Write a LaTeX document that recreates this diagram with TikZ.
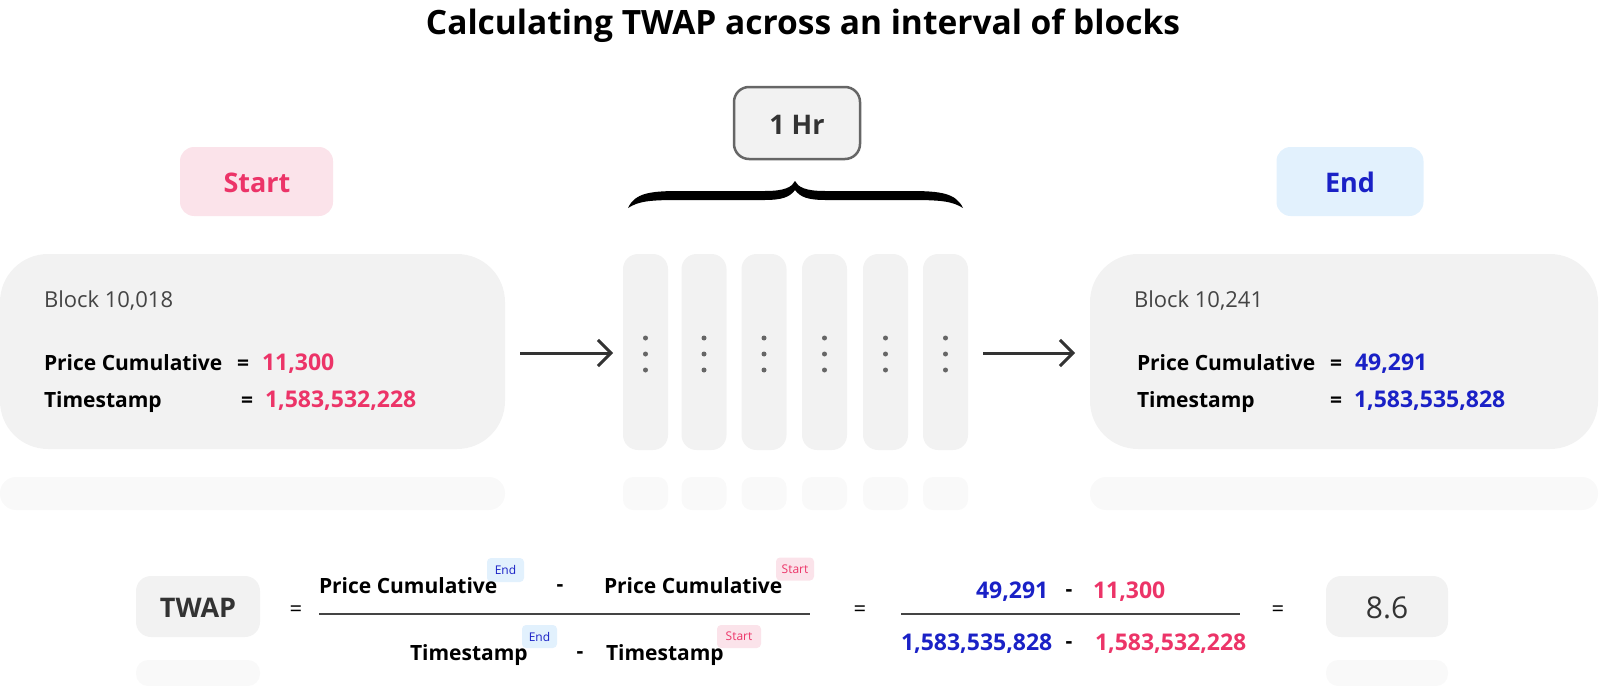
\documentclass[tikz,border=0pt]{standalone}
\usepackage{fontspec}
\setmainfont{Open Sans}
\usetikzlibrary{arrows.meta}
\definecolor{pinkc}{HTML}{EC3468}
\definecolor{bluec}{HTML}{1A21C6}
\definecolor{pinkbg}{HTML}{FBE3EA}
\definecolor{bluebg}{HTML}{E2F1FD}
\definecolor{blockbg}{HTML}{F2F2F2}
\definecolor{ghost}{HTML}{F9F9F9}
\definecolor{darktext}{HTML}{333333}
\definecolor{graytext}{HTML}{444444}
\definecolor{dotc}{HTML}{666666}
\tikzset{
  box/.style={rectangle, inner sep=0pt, outer sep=0pt, draw=none},
  blockbox/.style={box, fill=blockbg, rounded corners=48pt},
  colbox/.style={box, fill=blockbg, rounded corners=15pt, minimum width=45pt, minimum height=196pt},
  ghostcol/.style={box, fill=ghost, rounded corners=10pt, minimum width=45pt, minimum height=33pt},
  ghostbox/.style={box, fill=ghost, rounded corners=16pt},
  tagbox/.style={box, rounded corners=4pt, font=\fontsize{12}{14}\selectfont},
  lbl/.style={inner sep=0pt, outer sep=0pt},
  boldtxt/.style={lbl, font=\bfseries\fontsize{21}{25}\selectfont},
  numtxt/.style={lbl, font=\bfseries\fontsize{23}{27}\selectfont},
  headtxt/.style={lbl, anchor=base, font=\bfseries\fontsize{27}{32}\selectfont},
  arr/.style={-{Straight Barb[length=13pt,width=26pt]}, line width=3pt, draw=darktext},
}
\begin{document}
\begin{tikzpicture}[x=1pt,y=-1pt]
\useasboundingbox (0,0) rectangle (1600,685);

% title
\node[lbl, anchor=base, font=\bfseries\fontsize{33.5}{40}\selectfont] (title) at (803,35) {Calculating TWAP across an interval of blocks};

% 1 Hr label
\node[box, fill=blockbg, draw=dotc, line width=2.5pt, rounded corners=15pt, minimum width=126pt, minimum height=72pt] (hr) at (797,123) {};
\node[headtxt, text=darktext] (hrt) at (797,134) {1 Hr};

% brace
\fill[black] (628,208) .. controls (635,193) and (650,191) .. (680,191) -- (765,191)
  .. controls (785,191) and (792,187) .. (795,181) .. controls (798,187) and (805,191) .. (825,191)
  -- (910,191) .. controls (940,191) and (956,193) .. (963,208)
  .. controls (952,201) and (940,200) .. (910,200) -- (825,200)
  .. controls (808,200) and (800,197) .. (795,190) .. controls (790,197) and (782,200) .. (765,200)
  -- (680,200) .. controls (650,200) and (639,201) .. (628,208) -- cycle;

% start / end labels
\node[box, fill=pinkbg, rounded corners=14pt, minimum width=153pt, minimum height=69pt] (st) at (256.5,181.5) {};
\node[headtxt, text=pinkc] (stt) at (257,192) {Start};
\node[box, fill=bluebg, rounded corners=14pt, minimum width=147pt, minimum height=69pt] (en) at (1350,181.5) {};
\node[headtxt, text=bluec] (ent) at (1350,192) {End};

% start block
\node[blockbox, minimum width=505pt, minimum height=195pt] (sb) at (252.5,351.5) {};
\node[ghostbox, minimum width=505pt, minimum height=33pt] (sbg) at (252.5,493.5) {};
\node[lbl, anchor=base west, font=\fontsize{22}{26}\selectfont, text=graytext] (sbn) at (44,307) {Block 10,018};
\node[boldtxt, anchor=base west] (sbp) at (44,370) {Price Cumulative};
\node[boldtxt, anchor=base west] (sbpe) at (237,370) {=};
\node[numtxt, anchor=base west, text=pinkc] (sbpv) at (262,370) {11,300};
\node[boldtxt, anchor=base west] (sbs) at (44,407) {Timestamp};
\node[boldtxt, anchor=base west] (sbse) at (241,407) {=};
\node[numtxt, anchor=base west, text=pinkc] (sbsv) at (265,407) {1,583,532,228};

% end block
\node[blockbox, minimum width=508pt, minimum height=195pt] (eb) at (1344,351.5) {};
\node[ghostbox, minimum width=508pt, minimum height=33pt] (ebg) at (1344,493.5) {};
\node[lbl, anchor=base west, font=\fontsize{22}{26}\selectfont, text=graytext] (ebn) at (1134,307) {Block 10,241};
\node[boldtxt, anchor=base west] (ebp) at (1137,370) {Price Cumulative};
\node[boldtxt, anchor=base west] (ebpe) at (1330,370) {=};
\node[numtxt, anchor=base west, text=bluec] (ebpv) at (1355,370) {49,291};
\node[boldtxt, anchor=base west] (ebs) at (1137,407) {Timestamp};
\node[boldtxt, anchor=base west] (ebse) at (1330,407) {=};
\node[numtxt, anchor=base west, text=bluec] (ebsv) at (1354,407) {1,583,535,828};

% intermediate blocks
\foreach \i/\x in {1/645.5, 2/704, 3/764, 4/824.5, 5/885.5, 6/945.5} {
  \node[colbox] (c\i) at (\x,352) {};
  \node[ghostcol] (g\i) at (\x,493.5) {};
  \fill[dotc] (\x,338) circle (2.5) (\x,354) circle (2.5) (\x,370) circle (2.5);
}

% arrows
\draw[arr] ([xshift=15pt,yshift=-1.5pt]sb.east) -- ([xshift=-10pt,yshift=-1pt]c1.west);
\draw[arr] ([xshift=15pt,yshift=-1pt]c6.east) -- ([xshift=-15pt,yshift=-1.5pt]eb.west);

% formula
\node[box, fill=blockbg, rounded corners=15pt, minimum width=124pt, minimum height=61pt] (tw) at (198,606.5) {};
\node[ghostbox, rounded corners=12pt, minimum width=124pt, minimum height=26pt] (twg) at (198,673) {};
\node[lbl, anchor=base, font=\bfseries\fontsize{27}{32}\selectfont, text=darktext] (twt) at (198,617) {TWAP};
\node[lbl, font=\fontsize{22}{26}\selectfont] (eq1) at (296,611) {=};

\node[tagbox, fill=bluebg, minimum width=37pt, minimum height=24pt, text=bluec] (t1) at (505.5,570) {End};
\node[tagbox, fill=pinkbg, minimum width=38pt, minimum height=23pt, text=pinkc] (t2) at (795,569) {Start};
\node[tagbox, fill=bluebg, minimum width=35pt, minimum height=23pt, text=bluec] (t3) at (539.5,636.5) {End};
\node[tagbox, fill=pinkbg, minimum width=44pt, minimum height=23pt, text=pinkc] (t4) at (739,636.5) {Start};

\node[boldtxt, anchor=base west] (n1) at (319,593) {Price Cumulative};
\node[boldtxt, anchor=base] (m1) at (560,591) {-};
\node[boldtxt, anchor=base west] (n2) at (604,593) {Price Cumulative};
\draw[line width=1.5pt, graytext] (319,614) -- (810,614);
\node[boldtxt, anchor=base west] (d1) at (410,660) {Timestamp};
\node[boldtxt, anchor=base] (m2) at (580,658) {-};
\node[boldtxt, anchor=base west] (d2) at (606,660) {Timestamp};

\node[lbl, font=\fontsize{22}{26}\selectfont] (eq2) at (860,611) {=};
\node[numtxt, anchor=base west, text=bluec] (v1) at (976,598) {49,291};
\node[boldtxt, anchor=base] (m3) at (1069,596) {-};
\node[numtxt, anchor=base west, text=pinkc] (v2) at (1093,598) {11,300};
\draw[line width=1.5pt, graytext] (901,614) -- (1240,614);
\node[numtxt, anchor=base west, text=bluec] (v3) at (901,650) {1,583,535,828};
\node[boldtxt, anchor=base] (m4) at (1069,648) {-};
\node[numtxt, anchor=base west, text=pinkc] (v4) at (1095,650) {1,583,532,228};

\node[lbl, font=\fontsize{22}{26}\selectfont] (eq3) at (1278,611) {=};
\node[box, fill=blockbg, rounded corners=15pt, minimum width=122pt, minimum height=61pt] (res) at (1387,606.5) {};
\node[ghostbox, rounded corners=12pt, minimum width=122pt, minimum height=26pt] (resg) at (1387,673) {};
\node[lbl, anchor=base, font=\fontsize{30}{36}\selectfont, text=darktext] (rest) at (1387,618) {8.6};
\end{tikzpicture}
\end{document}
